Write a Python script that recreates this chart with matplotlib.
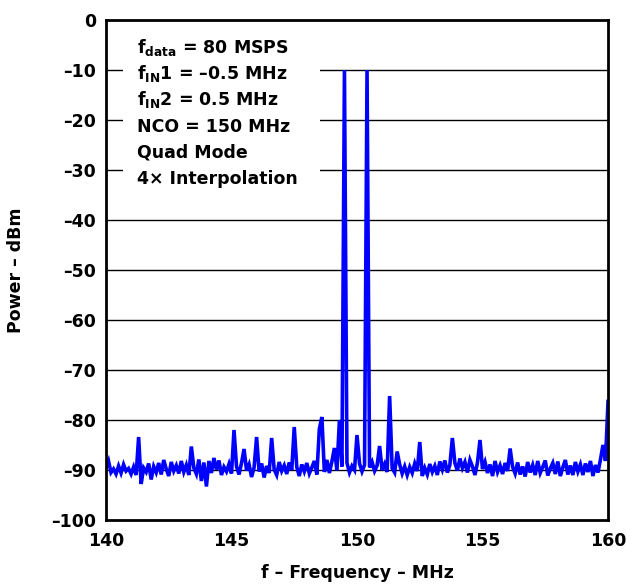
import numpy as np
import matplotlib
matplotlib.use("Agg")
import matplotlib.pyplot as plt
from matplotlib.patches import Rectangle

FONT = 'DejaVu Sans'
plt.rcParams['font.family'] = [FONT]
plt.rcParams['font.weight'] = 'bold'
plt.rcParams['mathtext.fontset'] = 'custom'
plt.rcParams['mathtext.rm'] = FONT + ':bold'
plt.rcParams['mathtext.it'] = FONT + ':bold'
plt.rcParams['mathtext.bf'] = FONT + ':bold'

# Frequency axis: 140.0 .. 160.0 MHz in 0.1 MHz steps
freq_start, freq_stop, freq_step = 140.0, 160.0, 0.1
power_dbm = [
    -89.5, -88.2, -90.5, -89.8, -90.8, -89.2, -90.6, -88.9, -90.2, -89.7,
    -90.8, -89.4, -91.0, -83.4, -92.8, -89.6, -90.4, -88.7, -91.9, -89.3,
    -90.5, -88.6, -90.9, -88.0, -89.8, -91.2, -88.4, -90.2, -89.1, -90.7,
    -88.2, -90.4, -89.0, -91.0, -85.3, -89.6, -90.8, -87.9, -92.2, -88.5,
    -93.3, -88.2, -90.6, -87.6, -89.9, -88.1, -91.0, -89.4, -90.3, -88.8,
    -90.7, -82.0, -89.3, -90.9, -88.6, -85.8, -90.1, -88.9, -91.4, -89.5,
    -83.4, -90.3, -88.7, -91.5, -89.2, -90.6, -83.6, -89.9, -91.0, -88.4,
    -90.2, -89.1, -90.8, -88.5, -90.0, -81.4, -89.4, -91.2, -88.9, -90.3,
    -88.6, -90.7, -89.5, -88.2, -90.9, -81.8, -79.4, -90.4, -88.0, -90.6,
    -88.3, -85.6, -90.1, -80.0, -89.3, -10.0, -88.6, -90.5, -89.2, -90.0,
    -83.0, -88.7, -90.3, -89.0, -10.0, -89.5, -88.4, -90.2, -89.1, -85.2,
    -90.0, -88.8, -90.4, -75.2, -89.6, -90.5, -86.3, -88.9, -90.7, -89.3,
    -91.0, -89.4, -90.6, -88.7, -90.2, -84.4, -91.2, -89.6, -90.9, -88.8,
    -90.4, -89.2, -91.0, -88.3, -89.9, -88.1, -90.5, -89.0, -83.6, -88.6,
    -90.1, -87.7, -89.6, -88.4, -90.5, -88.0, -89.3, -91.0, -88.5, -84.0,
    -89.8, -88.4, -90.6, -88.9, -91.2, -88.2, -90.4, -89.1, -90.8, -88.6,
    -90.2, -85.7, -89.4, -90.7, -88.5, -90.9, -89.3, -91.3, -88.4, -90.5,
    -89.0, -91.0, -88.2, -90.6, -89.4, -88.1, -91.1, -89.7, -88.6, -90.8,
    -88.3, -91.2, -89.5, -88.0, -90.9, -89.1, -91.0, -88.4, -90.3, -88.9,
    -91.0, -88.7, -90.4, -88.2, -91.2, -89.0, -90.5, -87.9, -85.0, -88.2,
    -76.3,
]
x_ticks = [140, 145, 150, 155, 160]
y_ticks = [0, -10, -20, -30, -40, -50, -60, -70, -80, -90, -100]
annotation_lines = [
    r'f$_{\mathrm{data}}$ = 80 MSPS',
    r'f$_{\mathrm{IN}}$1 = –0.5 MHz',
    r'f$_{\mathrm{IN}}$2 = 0.5 MHz',
    'NCO = 150 MHz',
    'Quad Mode',
    '4× Interpolation',
]

freq = freq_start + freq_step * np.arange(len(power_dbm))

W, H = 626, 585
fig = plt.figure(figsize=(W / 100, H / 100), dpi=100)
L, R, T, B = 106, 608, 20, 520
ax = fig.add_axes([L / W, 1 - B / H, (R - L) / W, (B - T) / H])

for yv in y_ticks[1:-1]:
    ax.axhline(yv, color='black', lw=1.0, zorder=1)

ax.add_patch(Rectangle(((123 - L) / (R - L), (B - 195) / (B - T)),
                       (320 - 123) / (R - L), (195 - T) / (B - T),
                       transform=ax.transAxes, facecolor='white',
                       edgecolor='none', zorder=2))

ax.plot(freq, power_dbm, color='#0000ff', lw=2.6, zorder=3,
        solid_joinstyle='miter')

ax.set_xlim(140, 160)
ax.set_ylim(-100, 0)
ax.set_xticks(x_ticks)
ax.set_xticklabels([str(t) for t in x_ticks])
ax.set_yticks(y_ticks)
ax.set_yticklabels([str(t).replace('-', '–') for t in y_ticks])
ax.tick_params(axis='y', length=0, labelsize=12.5, pad=7)
ax.tick_params(axis='x', length=0, labelsize=12.5, pad=9)
for lab in ax.get_xticklabels() + ax.get_yticklabels():
    lab.set_fontweight('bold')
for sp in ax.spines.values():
    sp.set_linewidth(2.0)
    sp.set_zorder(5)

ax.set_xlabel('f – Frequency – MHz', fontsize=12.5, fontweight='bold', labelpad=10)
ax.set_ylabel('Power – dBm', fontsize=12.5, fontweight='bold', labelpad=19)

baselines = [53, 79, 105, 131.5, 157.5, 184]
for txt, yb in zip(annotation_lines, baselines):
    ax.text((137 - L) / (R - L), (B - yb) / (B - T), txt,
            transform=ax.transAxes, fontsize=12.5, fontweight='bold',
            va='baseline', ha='left', zorder=6)

fig.savefig('out.png', dpi=100)
